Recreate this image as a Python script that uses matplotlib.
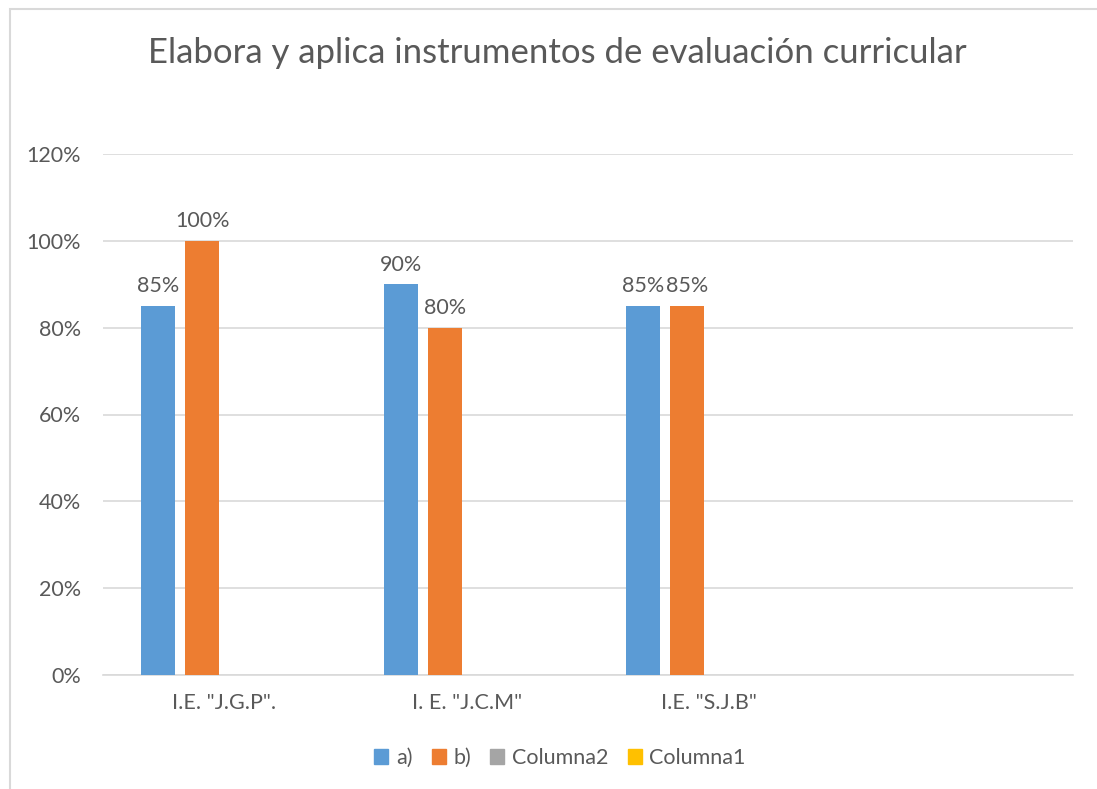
import numpy as np
import matplotlib.pyplot as plt
from matplotlib.patches import Patch, Rectangle

plt.rcParams['font.family'] = ['Lato', 'DejaVu Sans']

categories = ['I.E. "J.G.P".', 'I. E. "J.C.M"', 'I.E. "S.J.B"', '']
serie_a = [0.85, 0.90, 0.85, np.nan]
serie_b = [1.00, 0.80, 0.85, np.nan]
columna2 = [np.nan, np.nan, np.nan, np.nan]
columna1 = [np.nan, np.nan, np.nan, np.nan]

series = [("a)", serie_a, "#5B9BD5"),
          ("b)", serie_b, "#ED7D31"),
          ("Columna2", columna2, "#A5A5A5"),
          ("Columna1", columna1, "#FFC000")]

txt = "#595959"
W, H = 1097, 789
fig = plt.figure(figsize=(W / 100, H / 100), dpi=100)

# chart border (cropped on right/bottom)
fig.patches.append(Rectangle((10 / W, -0.1), 1.5, 1 - 9 / H + 0.1,
                             transform=fig.transFigure, fill=False,
                             edgecolor="#D9D9D9", linewidth=1.5))

ax = fig.add_axes([103 / W, 1 - 675 / H, (1073 - 103) / W, (675 - 154) / H])

x = np.arange(len(categories))
bw = 34 / 242.5
step = 44 / 242.5
for i, (name, vals, col) in enumerate(series):
    pos = x + (i - 1.5) * step
    ax.bar(pos, vals, width=bw, color=col, label=name, zorder=3)
    for p, v in zip(pos, vals):
        if not np.isnan(v):
            ax.text(p, v + 0.022, f"{v:.0%}", ha="center", va="bottom",
                    fontsize=15.5, color=txt)

ax.set_xlim(-0.5, len(categories) - 0.5)
ax.set_ylim(0, 1.2)
ax.set_yticks(np.arange(0, 1.21, 0.2))
ax.set_yticklabels([f"{int(round(t * 100))}%" for t in np.arange(0, 1.21, 0.2)])
ax.set_xticks(x)
ax.set_xticklabels(categories)
ax.tick_params(axis="both", length=0, labelsize=15.5, colors=txt)
ax.tick_params(axis="y", pad=16)
ax.tick_params(axis="x", pad=13)
ax.grid(axis="y", color="#D9D9D9", linewidth=1.2, zorder=0)
for s in ["top", "right", "left"]:
    ax.spines[s].set_visible(False)
ax.spines["bottom"].set_color("#D9D9D9")
ax.spines["bottom"].set_linewidth(1.2)

fig.text(557 / W, 1 - 53 / H, "Elabora y aplica instrumentos de evaluación curricular",
         ha="center", va="center", fontsize=25, color=txt)

handles = [Patch(color=c, label=n) for n, _, c in series]
fig.legend(handles=handles, loc="center", bbox_to_anchor=(560 / W, 1 - 758 / H),
           ncol=4, frameon=False, fontsize=15.5, labelcolor=txt,
           handlelength=0.65, handleheight=0.65, handletextpad=0.35, columnspacing=0.9)

fig.savefig("out.png", dpi=100)
